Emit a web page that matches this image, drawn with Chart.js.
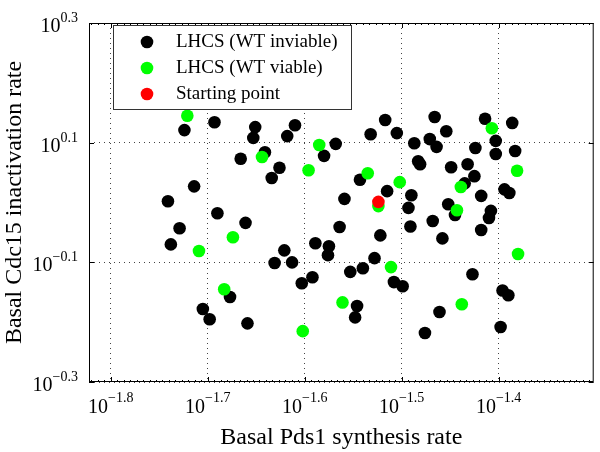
<!DOCTYPE html>
<html>
<head>
<meta charset="utf-8">
<script src="https://cdn.jsdelivr.net/npm/chart.js@4.4.0/dist/chart.umd.min.js"></script>
<style>
  html, body { margin: 0; padding: 0; background: #fff; }
  canvas { display: block; }
</style>
</head>
<body>
<canvas id="grafico" width="600" height="452"></canvas>
<script>
// valores em log10 (expoentes)
const inviableX = [-1.724, -1.693, -1.651, -1.653, -1.610, -1.618, -1.641, -1.666, -1.626, -1.634,
  -1.714, -1.741, -1.690, -1.661, -1.729, -1.738, -1.621, -1.631, -1.613, -1.677,
  -1.705, -1.698, -1.659, -1.603, -1.592, -1.568, -1.580, -1.517, -1.532, -1.505,
  -1.466, -1.454, -1.487, -1.471, -1.464, -1.414, -1.386, -1.403, -1.403, -1.424,
  -1.383, -1.483, -1.481, -1.449, -1.432, -1.425, -1.435, -1.418, -1.394, -1.389,
  -1.543, -1.515, -1.559, -1.490, -1.493, -1.452, -1.445, -1.408, -1.410, -1.468,
  -1.491, -1.564, -1.418, -1.522, -1.589, -1.575, -1.576, -1.528, -1.540, -1.553,
  -1.508, -1.499, -1.546, -1.548, -1.458, -1.427, -1.461, -1.476, -1.396, -1.390, -1.398];
const inviableY = [0.121, 0.134, 0.126, 0.108, 0.129, 0.111, 0.084, 0.073, 0.058, 0.041,
  0.027, 0.002, -0.018, -0.034, -0.043, -0.070, -0.080, -0.101, -0.100, -0.158,
  -0.178, -0.195, -0.202, -0.135, -0.125, 0.098, 0.078, 0.138, 0.114, 0.116,
  0.143, 0.119, 0.099, 0.106, 0.093, 0.140, 0.133, 0.103, 0.081, 0.091,
  0.086, 0.069, 0.064, 0.059, 0.064, 0.044, 0.032, 0.011, 0.022, 0.016,
  0.038, 0.019, 0.006, 0.012, -0.009, -0.003, -0.021, -0.014, -0.026, -0.031,
  -0.040, -0.041, -0.046, -0.055, -0.068, -0.073, -0.088, -0.093, -0.110, -0.116,
  -0.133, -0.140, -0.173, -0.192, -0.060, -0.120, -0.183, -0.218, -0.147, -0.155, -0.208];
const viableX = [-1.721, -1.644, -1.709, -1.674, -1.683, -1.585, -1.596, -1.535, -1.502, -1.524,
  -1.407, -1.381, -1.439, -1.443, -1.511, -1.561, -1.602, -1.438, -1.380];
const viableY = [0.145, 0.076, -0.081, -0.058, -0.145, 0.096, 0.054, 0.049, 0.034, -0.006,
  0.124, 0.053, 0.026, -0.013, -0.108, -0.167, -0.215, -0.170, -0.086];
const startX = [-1.524];
const startY = [0.001];

const xTickExps = [-1.8, -1.7, -1.6, -1.5, -1.4];
const yTickExps = [-0.3, -0.1, 0.1, 0.3];
const xRange = [-1.8224, -1.302];
const yRange = [-0.3, 0.3];

const serif = '"Liberation Serif", "Times New Roman", serif';

function pares(xs, ys) {
  return xs.map((v, i) => ({ x: 10 ** v, y: 10 ** ys[i] }));
}

function expText(e) {
  return (e < 0 ? '\u2212' : '') + Math.abs(e).toFixed(1);
}

// moldura, ticks internos, rótulos 10^x e legenda
const moldura = {
  id: 'moldura',
  afterDraw(chart) {
    const { ctx, chartArea: a, scales: { x, y } } = chart;
    ctx.save();
    ctx.strokeStyle = '#000';
    ctx.lineWidth = 1;
    ctx.strokeRect(a.left + 0.5, a.top + 0.5, a.right - a.left - 1, a.bottom - a.top - 1);

    ctx.beginPath();
    xTickExps.forEach(e => {
      const px = Math.round(x.getPixelForValue(10 ** e)) + 0.5;
      ctx.moveTo(px, a.bottom); ctx.lineTo(px, a.bottom - 5);
      ctx.moveTo(px, a.top); ctx.lineTo(px, a.top + 5);
    });
    yTickExps.forEach(e => {
      const py = Math.round(y.getPixelForValue(10 ** e)) + 0.5;
      ctx.moveTo(a.left, py); ctx.lineTo(a.left + 5, py);
      ctx.moveTo(a.right, py); ctx.lineTo(a.right - 5, py);
    });
    const passo = 0.1 / 15;
    for (let k = -10; k < 100; k++) {
      const e = xTickExps[0] + k * passo;
      if (e <= xRange[0] || e >= xRange[1]) continue;
      const px = Math.round(x.getPixelForValue(10 ** e)) + 0.5;
      ctx.moveTo(px, a.bottom); ctx.lineTo(px, a.bottom - 2);
      ctx.moveTo(px, a.top); ctx.lineTo(px, a.top + 2);
    }
    ctx.stroke();

    const base = '20px ' + serif, sup = '14px ' + serif;
    ctx.fillStyle = '#000';
    ctx.textAlign = 'left';
    ctx.textBaseline = 'alphabetic';
    xTickExps.forEach(e => {
      const px = x.getPixelForValue(10 ** e);
      ctx.font = base; const w1 = ctx.measureText('10').width;
      ctx.font = sup; const w2 = ctx.measureText(expText(e)).width;
      const x0 = px - (w1 + w2) / 2;
      ctx.font = base; ctx.fillText('10', x0, a.bottom + 31);
      ctx.font = sup; ctx.fillText(expText(e), x0 + w1, a.bottom + 20);
    });
    yTickExps.forEach(e => {
      const py = y.getPixelForValue(10 ** e);
      const dir = a.left - 11;
      ctx.font = base; const w1 = ctx.measureText('10').width;
      ctx.font = sup; const w2 = ctx.measureText(expText(e)).width;
      ctx.font = base; ctx.fillText('10', dir - w2 - w1, py + 9);
      ctx.font = sup; ctx.fillText(expText(e), dir - w2, py - 1);
    });

    // legenda
    const lx = a.left + 24, ly = a.top + 2, lw = 238, lh = 84;
    ctx.fillStyle = '#fff';
    ctx.fillRect(lx, ly, lw, lh);
    ctx.strokeStyle = '#333';
    ctx.strokeRect(lx + 0.5, ly + 0.5, lw, lh);
    ctx.font = '19px ' + serif;
    ctx.textBaseline = 'middle';
    chart.data.datasets.forEach((ds, i) => {
      const cy = ly + 17 + i * 26;
      ctx.fillStyle = ds.backgroundColor;
      ctx.beginPath();
      ctx.arc(lx + 34, cy, 6.3, 0, 2 * Math.PI);
      ctx.fill();
      ctx.fillStyle = '#000';
      ctx.fillText(ds.label, lx + 63, cy);
    });
    ctx.restore();
  }
};

const eixoGrid = { color: '#444', drawTicks: false };
const eixoBorda = { display: false, dash: [1, 4] };

new Chart(document.getElementById('grafico'), {
  type: 'scatter',
  data: {
    datasets: [
      { label: 'LHCS (WT inviable)', data: pares(inviableX, inviableY), backgroundColor: '#000000', order: 3 },
      { label: 'LHCS (WT viable)', data: pares(viableX, viableY), backgroundColor: '#00ff00', order: 2 },
      { label: 'Starting point', data: pares(startX, startY), backgroundColor: '#ff0000', order: 1 }
    ]
  },
  options: {
    responsive: false,
    animation: false,
    events: [],
    layout: { padding: { left: 0, right: 1, top: 23, bottom: 0 } },
    elements: { point: { radius: 6.3, borderWidth: 0, hoverRadius: 6.3 } },
    plugins: { legend: { display: false }, tooltip: { enabled: false } },
    scales: {
      x: {
        type: 'logarithmic',
        bounds: 'data',
        min: 10 ** xRange[0],
        max: 10 ** xRange[1],
        afterBuildTicks: s => { s.ticks = xTickExps.map(e => ({ value: 10 ** e })); },
        afterFit: s => { s.height = 70; },
        ticks: { display: false },
        grid: eixoGrid,
        border: eixoBorda,
        title: { display: true, text: 'Basal Pds1 synthesis rate', color: '#000', padding: 0, font: { family: serif, size: 24 } }
      },
      y: {
        type: 'logarithmic',
        bounds: 'data',
        min: 10 ** yRange[0],
        max: 10 ** yRange[1],
        afterBuildTicks: s => { s.ticks = yTickExps.map(e => ({ value: 10 ** e })); },
        afterFit: s => { s.width = 89; },
        ticks: { display: false },
        grid: eixoGrid,
        border: eixoBorda,
        title: { display: true, text: 'Basal Cdc15 inactivation rate', color: '#000', padding: 0, font: { family: serif, size: 24 } }
      }
    }
  },
  plugins: [moldura]
});
</script>
</body>
</html>
